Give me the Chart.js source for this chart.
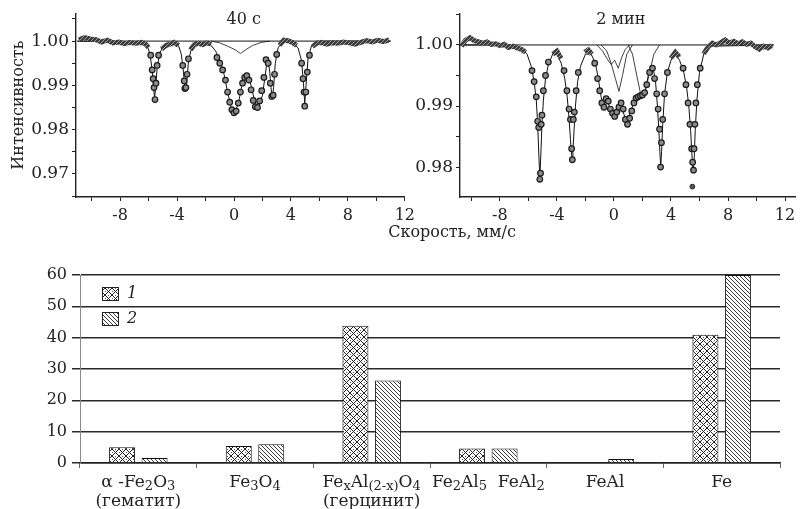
<!DOCTYPE html>
<html>
<head>
<meta charset="utf-8">
<script src="https://cdn.jsdelivr.net/npm/chart.js@4.4.0/dist/chart.umd.min.js"></script>
<style>
  html, body { margin: 0; padding: 0; background: #fff; }
  #page { position: relative; width: 803px; height: 509px; overflow: hidden; font-family: "DejaVu Serif", serif; }
  .box { position: absolute; }
  #xTitle { position: absolute; left: 352px; top: 223px; width: 200px; line-height: 18px; text-align: center; font-size: 16px; color: #222; }
</style>
</head>
<body>
<div id="page">
  <div class="box" style="left:0;top:0;width:420px;height:245px"><canvas id="spec40"></canvas></div>
  <div class="box" style="left:412px;top:0;width:391px;height:245px"><canvas id="spec2"></canvas></div>
  <div id="xTitle">Скорость, мм/с</div>
  <div class="box" style="left:0;top:260px;width:803px;height:249px"><canvas id="phases"></canvas></div>
</div>
<script>
// ---- spectrum 1: 40 s ----
const dataL_v = [-10.9, -10.5, -10.1, -9.7, -9.3, -8.9, -8.5, -8.1, -7.7, -7.3, -6.9, -6.5, -6.2, -6.0, -5.85, -5.75, -5.68, -5.62, -5.55, -5.48, -5.4, -5.3, -5.1, -4.8, -4.5, -4.2, -3.9, -3.75, -3.6, -3.5, -3.45, -3.38, -3.3, -3.2, -3.05, -2.8, -2.5, -2.2, -1.9, -1.6, -1.4, -1.2, -1.0, -0.8, -0.6, -0.45, -0.3, -0.15, 0, 0.15, 0.3, 0.45, 0.6, 0.75, 0.9, 1.05, 1.2, 1.35, 1.5, 1.65, 1.8, 1.95, 2.1, 2.25, 2.4, 2.55, 2.65, 2.75, 2.85, 3.0, 3.2, 3.5, 3.8, 4.1, 4.4, 4.6, 4.75, 4.85, 4.92, 4.97, 5.05, 5.15, 5.3, 5.5, 5.8, 6.1, 6.5, 6.9, 7.3, 7.7, 8.1, 8.5, 8.9, 9.3, 9.7, 10.1, 10.5, 10.9];
const dataL_I = [1.0003, 1.0008, 1.0005, 1.0003, 0.9998, 1.0002, 0.9996, 0.9998, 0.9994, 0.9997, 0.9995, 0.9997, 0.9993, 0.9985, 0.9968, 0.9935, 0.9915, 0.9895, 0.9868, 0.9905, 0.9945, 0.9968, 0.9982, 0.9990, 0.9993, 0.9997, 0.9990, 0.9975, 0.9945, 0.9910, 0.9893, 0.9895, 0.9925, 0.9960, 0.9980, 0.9992, 0.9995, 0.9992, 0.9996, 0.9993, 0.9975, 0.9963, 0.9950, 0.9935, 0.9912, 0.9885, 0.9862, 0.9845, 0.9838, 0.9842, 0.9860, 0.9885, 0.9905, 0.9918, 0.9922, 0.9912, 0.9890, 0.9866, 0.9852, 0.9850, 0.9865, 0.9888, 0.9918, 0.9958, 0.9950, 0.9905, 0.9875, 0.9878, 0.9925, 0.9970, 0.9990, 1.0002, 1.0001, 0.9997, 0.9990, 0.9975, 0.9950, 0.9915, 0.9885, 0.9853, 0.9885, 0.9930, 0.9968, 0.9988, 0.9995, 0.9997, 0.9993, 0.9996, 0.9995, 0.9998, 0.9996, 0.9993, 0.9997, 1.0001, 0.9998, 1.0002, 0.9999, 1.0003];
const fitL_v = [-11, -6.4, -6.1, -5.9, -5.75, -5.65, -5.58, -5.5, -5.4, -5.2, -4.9, -4.4, -3.9, -3.7, -3.55, -3.45, -3.4, -3.32, -3.2, -3.0, -2.6, -2.0, -1.6, -1.3, -1.0, -0.7, -0.45, -0.2, 0.05, 0.3, 0.55, 0.8, 1.05, 1.3, 1.5, 1.75, 2.0, 2.2, 2.35, 2.5, 2.6, 2.68, 2.78, 2.9, 3.1, 3.4, 3.7, 4.1, 4.5, 4.75, 4.88, 4.97, 5.06, 5.2, 5.45, 5.8, 6.2, 11];
const fitL_I = [1.0, 0.9998, 0.9990, 0.9970, 0.9935, 0.9895, 0.9872, 0.9895, 0.9940, 0.9975, 0.9990, 0.9996, 0.9990, 0.9970, 0.9930, 0.9893, 0.9888, 0.9905, 0.9955, 0.9982, 0.9994, 0.9996, 0.9990, 0.9978, 0.9958, 0.9925, 0.9885, 0.9850, 0.9840, 0.9858, 0.9900, 0.9926, 0.9920, 0.9885, 0.9858, 0.9852, 0.9878, 0.9925, 0.9960, 0.9935, 0.9895, 0.9870, 0.9895, 0.9950, 0.9985, 0.9997, 0.9999, 0.9996, 0.9985, 0.9955, 0.9905, 0.9860, 0.9900, 0.9960, 0.9990, 0.9998, 1.0, 1.0];
const compL_v = [-1.6, -1.0, -0.4, 0.1, 0.45, 0.8, 1.3, 1.9, 2.5];
const compL_I = [1.0, 0.9996, 0.9988, 0.9980, 0.9972, 0.9980, 0.9990, 0.9997, 1.0];

// ---- spectrum 2: 2 min ----
const dataR_v = [-10.7, -10.4, -10.1, -9.8, -9.5, -9.2, -8.9, -8.6, -8.3, -8.0, -7.7, -7.4, -7.1, -6.8, -6.5, -6.2, -5.95, -5.75, -5.6, -5.45, -5.35, -5.28, -5.2, -5.15, -5.1, -5.05, -4.95, -4.8, -4.6, -4.3, -4.0, -3.7, -3.5, -3.3, -3.15, -3.05, -2.97, -2.92, -2.85, -2.78, -2.65, -2.5, -2.3, -2.05, -1.8, -1.55, -1.35, -1.15, -1.0, -0.85, -0.7, -0.55, -0.4, -0.25, -0.1, 0.05, 0.2, 0.35, 0.5, 0.65, 0.8, 0.95, 1.1, 1.25, 1.4, 1.55, 1.7, 1.85, 2.0, 2.15, 2.3, 2.5, 2.7, 2.85, 3.0, 3.1, 3.2, 3.27, 3.33, 3.42, 3.55, 3.75, 4.0, 4.3, 4.6, 4.85, 5.05, 5.2, 5.33, 5.45, 5.52, 5.58, 5.62, 5.68, 5.75, 5.85, 6.05, 6.3, 6.6, 6.9, 7.2, 7.5, 7.8, 8.1, 8.4, 8.7, 9.0, 9.3, 9.6, 9.9, 10.2, 10.5, 10.8, 11.1];
const dataR_I = [0.9998, 1.0008, 1.0012, 1.0007, 1.0005, 1.0003, 1.0005, 1.0001, 1.0002, 0.9999, 1.0001, 0.9996, 0.9998, 0.9995, 0.9993, 0.9988, 0.9975, 0.9958, 0.9940, 0.9915, 0.9875, 0.9865, 0.9780, 0.9790, 0.9870, 0.9885, 0.9925, 0.9950, 0.9972, 0.9985, 0.9990, 0.9978, 0.9958, 0.9925, 0.9895, 0.9878, 0.9830, 0.9812, 0.9878, 0.9890, 0.9925, 0.9955, 0.9975, 0.9988, 0.9992, 0.9985, 0.9970, 0.9945, 0.9925, 0.9905, 0.9898, 0.9912, 0.9908, 0.9895, 0.9888, 0.9883, 0.9890, 0.9898, 0.9905, 0.9895, 0.9878, 0.9870, 0.9880, 0.9892, 0.9905, 0.9913, 0.9915, 0.9917, 0.9918, 0.9922, 0.9935, 0.9955, 0.9962, 0.9945, 0.9920, 0.9895, 0.9862, 0.9800, 0.9840, 0.9878, 0.9920, 0.9955, 0.9978, 0.9988, 0.9980, 0.9962, 0.9935, 0.9905, 0.9870, 0.9830, 0.9808, 0.9795, 0.9830, 0.9870, 0.9905, 0.9935, 0.9962, 0.9985, 0.9997, 1.0003, 1.0000, 1.0004, 1.0008, 1.0003, 1.0006, 1.0002, 1.0005, 1.0001, 1.0003, 0.9997, 0.9993, 0.9998, 0.9995, 0.9999];
const strayR_v = [5.5];
const strayR_I = [0.9768];
const fitR_v = [-10.8, -7, -6.5, -6.1, -5.8, -5.6, -5.45, -5.35, -5.27, -5.2, -5.13, -5.05, -4.95, -4.8, -4.6, -4.3, -4.0, -3.7, -3.45, -3.28, -3.15, -3.05, -2.97, -2.93, -2.88, -2.8, -2.7, -2.55, -2.35, -2.0, -1.6, -1.3, -1.1, -0.9, -0.75, -0.6, -0.4, -0.2, 0, 0.2, 0.4, 0.6, 0.8, 1.0, 1.2, 1.45, 1.7, 1.95, 2.2, 2.45, 2.7, 2.9, 3.05, 3.15, 3.22, 3.28, 3.34, 3.42, 3.55, 3.75, 4.0, 4.3, 4.6, 4.9, 5.1, 5.25, 5.38, 5.47, 5.52, 5.57, 5.63, 5.7, 5.82, 6.0, 6.3, 6.8, 11.2];
const fitR_I = [1.0, 1.0, 0.9995, 0.9985, 0.9965, 0.9940, 0.9910, 0.9870, 0.9820, 0.9782, 0.9820, 0.9870, 0.9910, 0.9945, 0.9968, 0.9985, 0.9985, 0.9970, 0.9945, 0.9915, 0.9880, 0.9845, 0.9820, 0.9812, 0.9825, 0.9860, 0.9900, 0.9940, 0.9965, 0.9985, 0.9985, 0.9970, 0.9945, 0.9915, 0.9900, 0.9915, 0.9905, 0.9890, 0.9885, 0.9895, 0.9905, 0.9893, 0.9880, 0.9878, 0.9895, 0.9905, 0.9912, 0.9915, 0.9925, 0.9955, 0.9965, 0.9945, 0.9900, 0.9860, 0.9825, 0.9800, 0.9825, 0.9870, 0.9920, 0.9955, 0.9975, 0.9985, 0.9975, 0.9955, 0.9930, 0.9900, 0.9860, 0.9820, 0.9800, 0.9795, 0.9815, 0.9860, 0.9910, 0.9955, 0.9985, 0.9998, 1.0];
const compR1_v = [-0.9, -0.5, -0.2, 0.1, 0.35, 0.6, 0.9, 1.3];
const compR1_I = [1.0, 0.9990, 0.9970, 0.9945, 0.9924, 0.9950, 0.9985, 1.0];
const compR2_v = [1.0, 1.3, 1.6, 1.85, 2.0, 2.2, 2.5, 2.8, 3.2];
const compR2_I = [1.0, 0.9985, 0.9950, 0.9922, 0.9917, 0.9925, 0.9955, 0.9985, 1.0];
const compR3_v = [-1.2, -0.8, -0.5, -0.2, 0.05, 0.3, 0.55, 0.8, 1.1];
const compR3_I = [1.0, 0.9990, 0.9978, 0.9968, 0.9975, 0.9962, 0.9980, 0.9993, 1.0];

// ---- phase fractions, % ----
const phases = [['α -Fe_2O_3', '(гематит)'], ['Fe_3O_4'], ['Fe_xAl_{(2-x)}O_4', '(герцинит)'], ['Fe_2Al_5  FeAl_2'], ['FeAl'], ['Fe']];
const sample1 = [5.0, 5.4, 43.8, 4.6, null, 40.9];
const sample2 = [1.6, 6.0, 26.3, 4.6, 1.3, 60.0];
const seriesNames = ['1', '2'];

const SERIF = '"DejaVu Serif", serif';
const INK = '#222';

const pts = (xs, ys) => xs.map((x, i) => ({ x: x, y: ys[i] }));

function tile(size, draw) {
  const c = document.createElement('canvas');
  c.width = c.height = size;
  const g = c.getContext('2d');
  draw(g, size);
  return g.createPattern(c, 'repeat');
}

const bandPattern = tile(4, (g, s) => {
  g.fillStyle = '#3c3c3c'; g.fillRect(0, 0, s, s);
  g.strokeStyle = '#a8a8a8'; g.lineWidth = 0.9;
  g.beginPath(); g.moveTo(-1, 5); g.lineTo(5, -1); g.stroke();
});
const crossPattern = tile(7, (g, s) => {
  g.fillStyle = '#fff'; g.fillRect(0, 0, s, s);
  g.strokeStyle = '#222'; g.lineWidth = 1;
  g.beginPath();
  g.moveTo(0, 0); g.lineTo(s, s);
  g.moveTo(s, 0); g.lineTo(0, s);
  g.stroke();
  g.fillStyle = '#555'; g.fillRect(3, 0, 1, 1); g.fillRect(0, 3, 1, 1);
});
const diagPattern = tile(4, (g, s) => {
  g.fillStyle = '#fff'; g.fillRect(0, 0, s, s);
  g.strokeStyle = '#222'; g.lineWidth = 0.9;
  g.beginPath();
  g.moveTo(-1, -1); g.lineTo(s + 1, s + 1);
  g.moveTo(-1, s - 1); g.lineTo(1, s + 1);
  g.moveTo(s - 1, -1); g.lineTo(s + 1, 1);
  g.stroke();
});

const panelTitle = {
  id: 'panelTitle',
  afterDraw(chart, args, o) {
    const { ctx, chartArea: a } = chart;
    ctx.save();
    ctx.font = '16px ' + SERIF;
    ctx.fillStyle = INK;
    ctx.textAlign = 'center';
    ctx.textBaseline = 'middle';
    ctx.fillText(o.text, a.left + (a.right - a.left) * o.at, a.top + 7);
    ctx.restore();
  }
};

const PEAK = 0.9975;

function dataSet(v, I) {
  return {
    data: pts(v, I),
    showLine: true,
    borderColor: bandPattern,
    borderWidth: 5,
    segment: {
      borderColor: c => (c.p0.parsed.y > PEAK && c.p1.parsed.y > PEAK) ? bandPattern : 'rgba(0,0,0,0)'
    },
    pointRadius: c => (c.raw && c.raw.y < PEAK) ? 2.8 : 0,
    pointBackgroundColor: '#8a8a8a',
    pointBorderColor: '#1a1a1a',
    pointBorderWidth: 1.2
  };
}
const lineSet = (v, I, w) => ({ data: pts(v, I), showLine: true, borderColor: '#111', borderWidth: w, pointRadius: 0 });

function spectrum(id, cfg) {
  const xTicks = [];
  for (let v = -10; v <= 12; v += 2) xTicks.push(v);
  const yTicks = [];
  for (let k = Math.ceil(cfg.yMin * 200); k <= Math.floor(cfg.yMax * 200); k++) yTicks.push(k / 200);

  new Chart(document.getElementById(id), {
    type: 'scatter',
    data: { datasets: cfg.datasets },
    options: {
      animation: false,
      responsive: true,
      maintainAspectRatio: false,
      layout: { padding: { top: 13, right: cfg.padRight, left: 0, bottom: 0 } },
      plugins: {
        legend: { display: false },
        tooltip: { enabled: false },
        panelTitle: { text: cfg.title, at: cfg.titleAt }
      },
      scales: {
        x: {
          type: 'linear',
          min: cfg.xMin,
          max: cfg.xMax,
          afterBuildTicks: s => { s.ticks = xTicks.map(v => ({ value: v })); },
          afterFit: s => { s.height = 48; },
          grid: { drawOnChartArea: false, tickLength: 4, color: INK },
          border: { color: INK, width: 1.4 },
          ticks: {
            autoSkip: false, maxRotation: 0, padding: 5, color: INK,
            font: { family: SERIF, size: 16 },
            callback: v => (v % 4 === 0 ? String(v) : '')
          }
        },
        y: {
          min: cfg.yMin,
          max: cfg.yMax,
          afterBuildTicks: s => { s.ticks = yTicks.map(v => ({ value: v })); },
          afterFit: s => { s.width = cfg.yWidth; },
          grid: { drawOnChartArea: false, tickLength: 4, color: INK },
          border: { color: INK, width: 1.4 },
          title: cfg.yTitle ? {
            display: true, text: cfg.yTitle, color: INK,
            font: { family: SERIF, size: 16 }, padding: { top: 9, bottom: 0 }
          } : { display: false },
          ticks: {
            autoSkip: false, padding: 3, color: INK,
            font: { family: SERIF, size: 17 },
            callback: v => (Math.round(v * 1000) % 10 === 0 ? v.toFixed(2) : '')
          }
        }
      }
    },
    plugins: [panelTitle]
  });
}

spectrum('spec40', {
  title: '40 с', titleAt: 0.51,
  xMin: -11.1, xMax: 12, yMin: 0.9648, yMax: 1.0063,
  yWidth: 76, padRight: 9, yTitle: 'Интенсивность',
  datasets: [
    dataSet(dataL_v, dataL_I),
    lineSet(fitL_v, fitL_I, 1),
    lineSet(compL_v, compL_I, 0.8),
    lineSet([-11, 11], [1.0, 1.0], 1)
  ]
});

spectrum('spec2', {
  title: '2 мин', titleAt: 0.48,
  xMin: -10.8, xMax: 12.7, yMin: 0.9751, yMax: 1.0052,
  yWidth: 48, padRight: 8, yTitle: null,
  datasets: [
    dataSet(dataR_v, dataR_I),
    { data: pts(strayR_v, strayR_I), showLine: false, pointRadius: 2.4, pointBackgroundColor: '#555', pointBorderColor: '#222' },
    lineSet(fitR_v, fitR_I, 1),
    lineSet(compR1_v, compR1_I, 0.8),
    lineSet(compR2_v, compR2_I, 0.8),
    lineSet(compR3_v, compR3_I, 0.8),
    lineSet([-10.8, 11.2], [1.0, 1.0], 1)
  ]
});

// text with _x or _{...} subscripts
function richParts(str) {
  const parts = [];
  for (let i = 0; i < str.length; i++) {
    if (str[i] === '_') {
      let t;
      if (str[i + 1] === '{') { const j = str.indexOf('}', i); t = str.slice(i + 2, j); i = j; }
      else { t = str[i + 1]; i++; }
      parts.push({ t: t, sub: true });
    } else {
      const last = parts[parts.length - 1];
      if (last && !last.sub) last.t += str[i];
      else parts.push({ t: str[i], sub: false });
    }
  }
  return parts;
}
function drawRich(ctx, str, cx, y) {
  const big = '17px ' + SERIF, small = '13px ' + SERIF;
  const parts = richParts(str);
  let w = 0;
  parts.forEach(p => { ctx.font = p.sub ? small : big; p.w = ctx.measureText(p.t).width; w += p.w; });
  let x = cx - w / 2;
  parts.forEach(p => {
    ctx.font = p.sub ? small : big;
    ctx.fillText(p.t, x, p.sub ? y + 4 : y);
    x += p.w;
  });
}

const phaseLabels = {
  id: 'phaseLabels',
  afterDraw(chart) {
    const { ctx, scales: { x } } = chart;
    ctx.save();
    ctx.fillStyle = INK;
    ctx.textAlign = 'left';
    ctx.textBaseline = 'middle';
    phases.forEach((lines, i) => {
      const cx = x.getPixelForValue(i);
      lines.forEach((line, k) => drawRich(ctx, line, cx, x.top + 20 + k * 19));
    });
    ctx.restore();
  }
};

const boxLegend = {
  id: 'boxLegend',
  afterDraw(chart) {
    const { ctx, chartArea: a } = chart;
    ctx.save();
    chart.data.datasets.forEach((ds, i) => {
      const y = a.top + 12 + i * 25;
      ctx.fillStyle = ds.backgroundColor;
      ctx.fillRect(a.left + 22, y, 17, 14);
      ctx.strokeStyle = '#222';
      ctx.lineWidth = 1;
      ctx.strokeRect(a.left + 22.5, y + 0.5, 16, 13);
      ctx.fillStyle = INK;
      ctx.font = 'italic 16px ' + SERIF;
      ctx.textBaseline = 'middle';
      ctx.fillText(ds.label, a.left + 47, y + 7);
    });
    ctx.restore();
  }
};

new Chart(document.getElementById('phases'), {
  type: 'bar',
  data: {
    labels: phases.map(l => l.join(' ').replace(/[_{}]/g, '')),
    datasets: [
      { label: seriesNames[0], data: sample1, backgroundColor: crossPattern, borderColor: '#111', borderWidth: 1 },
      { label: seriesNames[1], data: sample2, backgroundColor: diagPattern, borderColor: '#111', borderWidth: 1 }
    ]
  },
  options: {
    animation: false,
    responsive: true,
    maintainAspectRatio: false,
    categoryPercentage: 0.557,
    barPercentage: 0.8,
    layout: { padding: { top: 15, right: 23, left: 0, bottom: 0 } },
    plugins: { legend: { display: false }, tooltip: { enabled: false } },
    scales: {
      x: {
        afterFit: s => { s.height = 46; },
        grid: {
          drawOnChartArea: true,
          tickLength: 5,
          color: c => (c.index === phases.length ? '#444' : 'rgba(0,0,0,0)'),
          tickColor: '#666'
        },
        border: { color: '#222', width: 1.5 },
        ticks: { display: false }
      },
      y: {
        min: 0,
        max: 60,
        afterFit: s => { s.width = 80; },
        grid: { color: '#2a2a2a', lineWidth: 1.5, tickLength: 8 },
        border: { color: '#888', width: 1 },
        ticks: { stepSize: 10, padding: 5, color: INK, font: { family: SERIF, size: 16 } }
      }
    }
  },
  plugins: [phaseLabels, boxLegend]
});
</script>
</body>
</html>
